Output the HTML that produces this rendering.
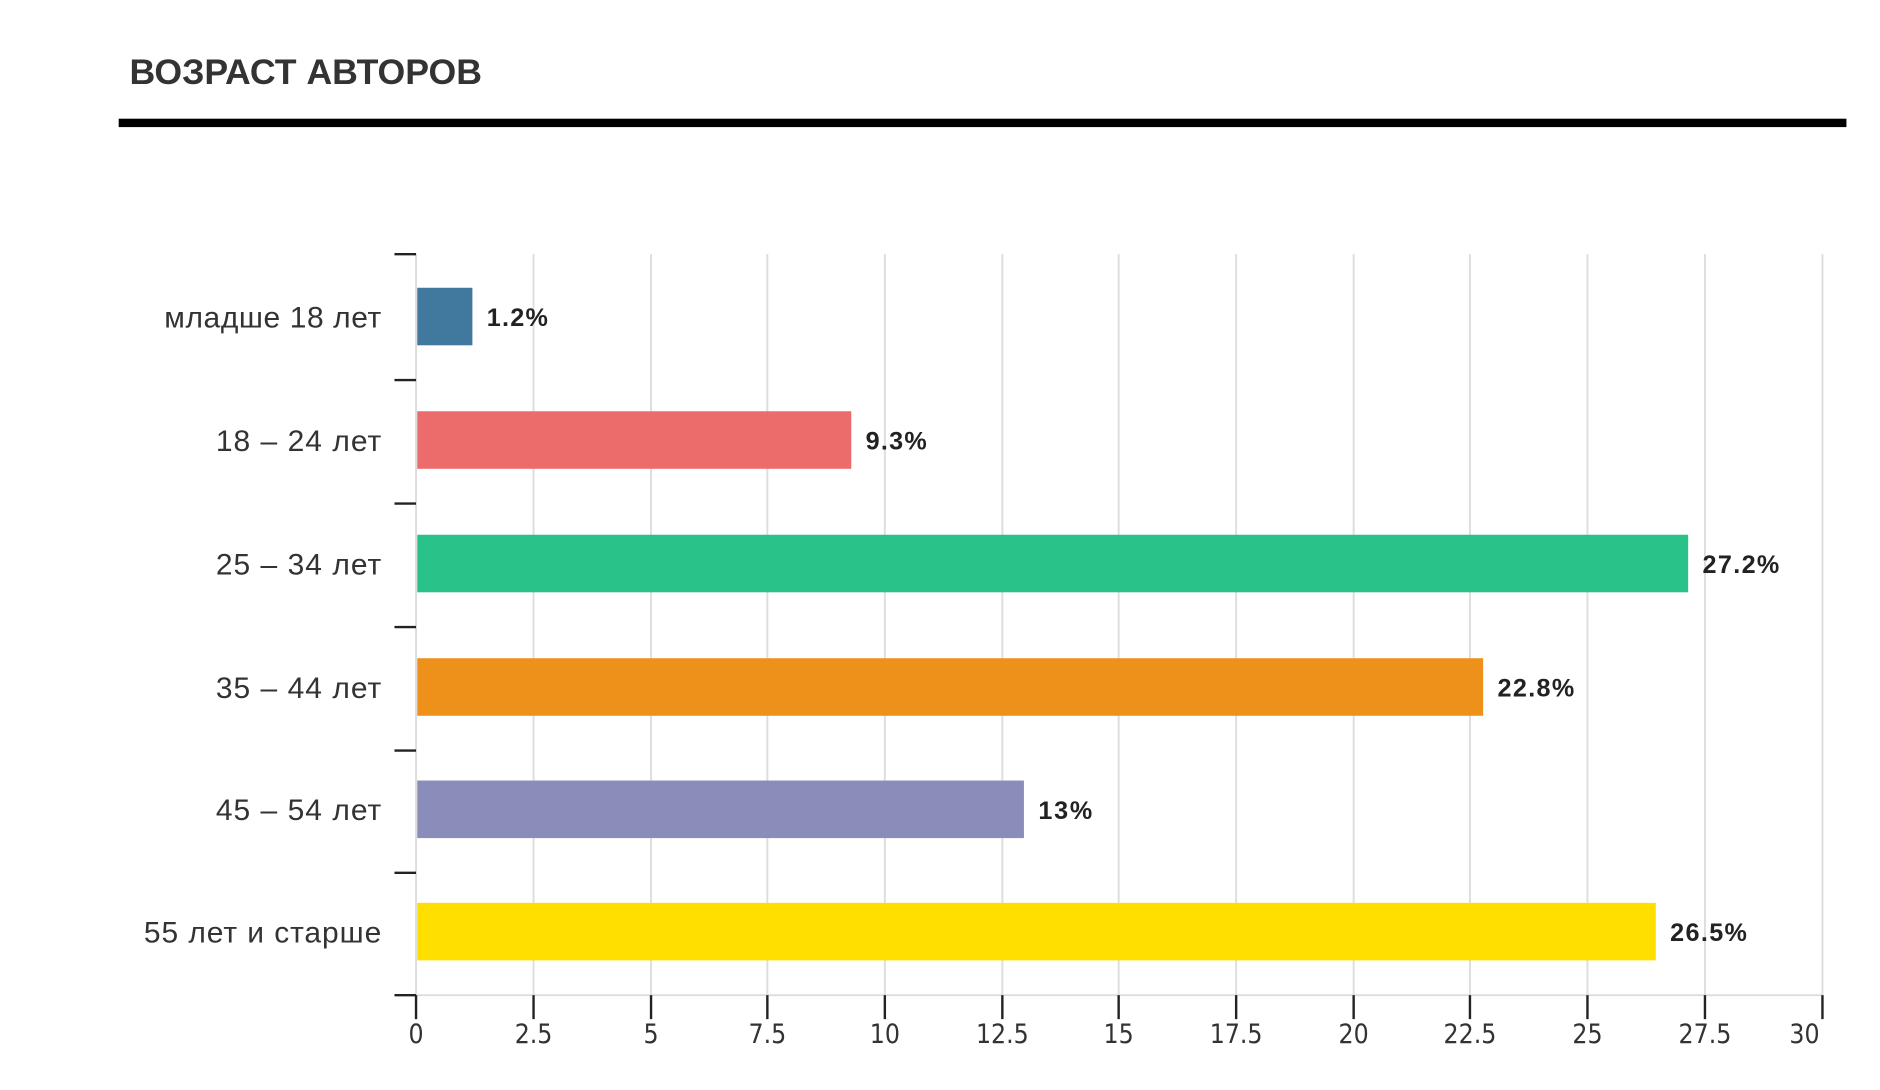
<!DOCTYPE html>
<html><head><meta charset="utf-8"><style>
html,body{margin:0;padding:0;background:#fff;width:1880px;height:1090px;overflow:hidden}
svg{display:block}
</style></head><body>
<svg width="1880" height="1090" viewBox="0 0 1568 909" preserveAspectRatio="xMinYMin meet" xmlns="http://www.w3.org/2000/svg">
<text x="108" y="70" font-family="Liberation Sans, sans-serif" font-weight="bold" font-size="29" fill="#333" textLength="294" lengthAdjust="spacingAndGlyphs">ВОЗРАСТ АВТОРОВ</text>
<rect x="99" y="99" width="1441" height="7" fill="#000"/>
<g stroke="#ddd" stroke-width="1.6">
<line x1="445" y1="212" x2="445" y2="830"/><line x1="543" y1="212" x2="543" y2="830"/>
<line x1="640" y1="212" x2="640" y2="830"/><line x1="738" y1="212" x2="738" y2="830"/>
<line x1="836" y1="212" x2="836" y2="830"/><line x1="933" y1="212" x2="933" y2="830"/>
<line x1="1031" y1="212" x2="1031" y2="830"/><line x1="1129" y1="212" x2="1129" y2="830"/>
<line x1="1226" y1="212" x2="1226" y2="830"/><line x1="1324" y1="212" x2="1324" y2="830"/>
<line x1="1422" y1="212" x2="1422" y2="830"/><line x1="1520" y1="212" x2="1520" y2="830"/>
<line x1="347" y1="212" x2="347" y2="830"/><line x1="347" y1="830" x2="1520" y2="830"/>
</g>
<g stroke="#222" stroke-width="2">
<line x1="329" y1="212" x2="347" y2="212"/><line x1="329" y1="317" x2="347" y2="317"/>
<line x1="329" y1="420" x2="347" y2="420"/><line x1="329" y1="523" x2="347" y2="523"/>
<line x1="329" y1="626" x2="347" y2="626"/><line x1="329" y1="728" x2="347" y2="728"/>
<line x1="329" y1="830" x2="347" y2="830"/>
<line x1="347" y1="830" x2="347" y2="850"/><line x1="445" y1="830" x2="445" y2="850"/>
<line x1="543" y1="830" x2="543" y2="850"/><line x1="640" y1="830" x2="640" y2="850"/>
<line x1="738" y1="830" x2="738" y2="850"/><line x1="836" y1="830" x2="836" y2="850"/>
<line x1="933" y1="830" x2="933" y2="850"/><line x1="1031" y1="830" x2="1031" y2="850"/>
<line x1="1129" y1="830" x2="1129" y2="850"/><line x1="1226" y1="830" x2="1226" y2="850"/>
<line x1="1324" y1="830" x2="1324" y2="850"/><line x1="1422" y1="830" x2="1422" y2="850"/>
<line x1="1520" y1="830" x2="1520" y2="850"/>
</g>
<g font-family="DejaVu Sans Condensed, DejaVu Sans, sans-serif" font-size="22" fill="#333" text-anchor="middle">
<text x="347" y="870">0</text><text x="445" y="870">2.5</text><text x="543" y="870">5</text>
<text x="640" y="870">7.5</text><text x="738" y="870">10</text><text x="836" y="870">12.5</text>
<text x="933" y="870">15</text><text x="1031" y="870">17.5</text><text x="1129" y="870">20</text>
<text x="1226" y="870">22.5</text><text x="1324" y="870">25</text><text x="1422" y="870">27.5</text>
<text x="1505" y="870">30</text>
</g>
<rect x="348" y="240" width="46" height="48" fill="#41799e"/>
<rect x="348" y="343" width="362" height="48" fill="#ec6b6b"/>
<rect x="348" y="446" width="1060" height="48" fill="#29c38a"/>
<rect x="348" y="549" width="889" height="48" fill="#ee911a"/>
<rect x="348" y="651" width="506" height="48" fill="#8a8cb9"/>
<rect x="348" y="753" width="1033" height="48" fill="#fedf00"/>
<g font-family="Liberation Sans, sans-serif" font-size="25" fill="#333" lengthAdjust="spacingAndGlyphs">
<text x="137" y="273" textLength="181">младше 18 лет</text>
<text x="180" y="376" textLength="138">18 – 24 лет</text>
<text x="180" y="479" textLength="138">25 – 34 лет</text>
<text x="180" y="582" textLength="138">35 – 44 лет</text>
<text x="180" y="684" textLength="138">45 – 54 лет</text>
<text x="120" y="786" textLength="198">55 лет и старше</text>
</g>
<g font-family="Liberation Sans, sans-serif" font-size="21" font-weight="bold" fill="#222" lengthAdjust="spacingAndGlyphs">
<text x="406" y="272" textLength="51">1.2%</text>
<text x="722" y="375" textLength="51">9.3%</text>
<text x="1420" y="478" textLength="64">27.2%</text>
<text x="1249" y="581" textLength="64">22.8%</text>
<text x="866" y="683" textLength="45">13%</text>
<text x="1393" y="785" textLength="64">26.5%</text>
</g>
</svg>
</body></html>
